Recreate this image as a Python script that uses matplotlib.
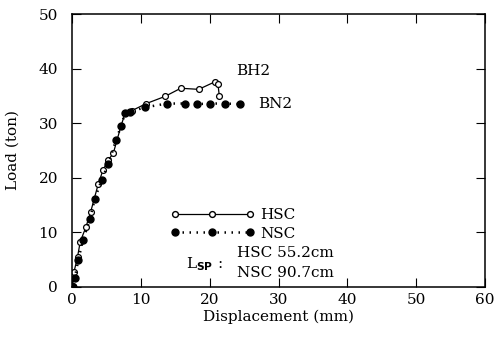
import matplotlib
matplotlib.use('Agg')
import matplotlib.pyplot as plt
from matplotlib.lines import Line2D

# HSC (BH2) load-displacement curve
hsc_disp = [0.1, 0.3, 0.8, 1.2, 2.0, 2.7, 3.8, 4.5, 5.3, 6.0, 7.1, 7.7, 8.7,
            10.8, 13.5, 15.8, 18.4, 20.8, 21.2, 21.4]
hsc_load = [0.2, 2.8, 5.5, 8.3, 10.9, 13.7, 18.8, 21.4, 23.3, 24.5, 29.4, 31.8, 32.3,
            33.6, 34.9, 36.4, 36.2, 37.6, 37.2, 35.0]

# NSC (BN2) load-displacement curve
nsc_disp = [0.2, 0.4, 0.9, 1.6, 2.6, 3.3, 4.3, 5.3, 6.4, 7.1, 7.7, 8.4, 10.6,
            13.8, 16.4, 18.1, 20.1, 22.2, 24.4]
nsc_load = [0.05, 1.6, 4.9, 8.6, 12.4, 16.1, 19.6, 22.6, 26.9, 29.4, 31.8, 32.1, 32.9,
            33.6, 33.6, 33.5, 33.6, 33.6, 33.5]

plt.rcParams['font.family'] = ['DejaVu Serif']

fig = plt.figure(figsize=(4.97, 3.45), dpi=100)
ax = fig.add_axes([72 / 497, 1 - 287 / 345, (485 - 72) / 497, (287 - 14) / 345])

ax.plot(hsc_disp, hsc_load, color='black', lw=0.9, marker='o', ms=4.2,
        mfc='white', mec='black', mew=0.9)
ax.plot(nsc_disp, nsc_load, color='black', lw=1.8, ls=(0, (0.6, 2.2)),
        marker='o', ms=5, mfc='black', mec='black')

ax.text(23.9, 39.6, 'BH2', fontsize=11, ha='left', va='center')
ax.text(27.0, 33.6, 'BN2', fontsize=11, ha='left', va='center')

handles = [
    Line2D([], [], color='black', lw=0.9, marker='o', ms=4.2, mfc='white', mec='black'),
    Line2D([], [], color='black', lw=1.8, ls=(0, (0.6, 2.2)), marker='o', ms=5, mfc='black'),
]
ax.legend(handles, ['HSC', 'NSC'], loc='upper left', bbox_to_anchor=(0.205, 0.34),
          frameon=False, numpoints=3, handlelength=5.5, handletextpad=0.4,
          labelspacing=0.3, fontsize=11)

ax.text(0.275, 0.085, r'L$_{\mathbf{SP}}$ :', transform=ax.transAxes, fontsize=11,
        ha='left', va='center')
ax.text(0.40, 0.125, 'HSC 55.2cm', transform=ax.transAxes, fontsize=11,
        ha='left', va='center')
ax.text(0.40, 0.05, 'NSC 90.7cm', transform=ax.transAxes, fontsize=11,
        ha='left', va='center')

ax.set_xlim(0, 60)
ax.set_ylim(0, 50)
ax.set_xticks(range(0, 61, 10))
ax.set_yticks(range(0, 51, 10))
ax.tick_params(direction='in', top=True, right=True, length=6.5, labelsize=11)
ax.tick_params(axis='x', pad=4)
ax.tick_params(axis='y', pad=10)
for s in ax.spines.values():
    s.set_linewidth(1.1)

ax.set_xlabel('Displacement (mm)', fontsize=11, labelpad=2)
ax.set_ylabel('Load (ton)', fontsize=11, labelpad=14)

fig.savefig('out.png', dpi=100)
